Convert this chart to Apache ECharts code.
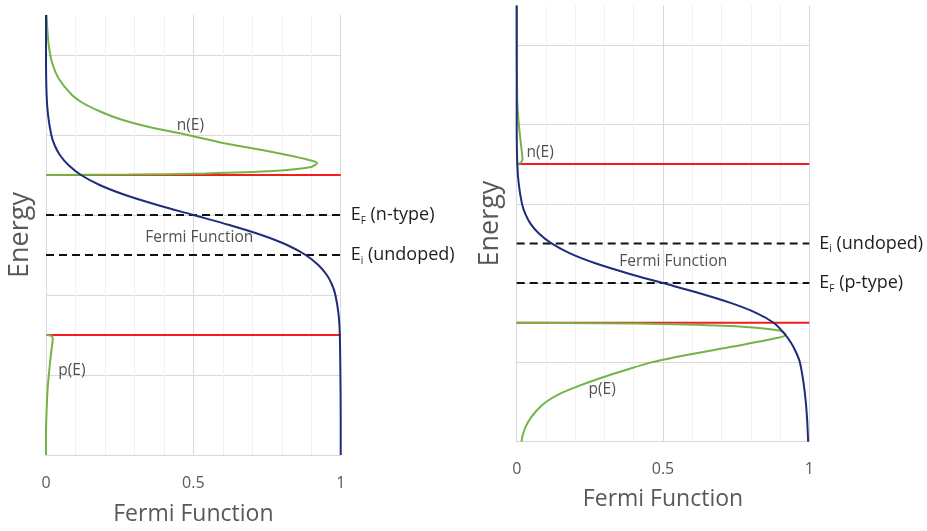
<!DOCTYPE html>
<html>
<head>
<meta charset="utf-8">
<script src="https://cdn.jsdelivr.net/npm/echarts@6/dist/echarts.min.js"></script>
<style>
  html, body { margin: 0; padding: 0; background: #ffffff; }
  #chart { width: 927px; height: 531px; }
</style>
</head>
<body>
<div id="chart"></div>
<script>
// Energy-band diagrams: Fermi function with electron/hole distributions
// for an n-type (left) and a p-type (right) semiconductor.
// Every point is [Fermi function value, energy].

// n-type panel
const fermiN = [
  [1.000, 0.0], [1.000, 0.5], [0.999, 1.0], [0.997, 1.5], [0.993, 1.75],
  [0.982, 2.0], [0.971, 2.125], [0.953, 2.25], [0.924, 2.375], [0.881, 2.5],
  [0.818, 2.625], [0.731, 2.75], [0.622, 2.875], [0.500, 3.0], [0.378, 3.125],
  [0.269, 3.25], [0.182, 3.375], [0.119, 3.5], [0.076, 3.625], [0.047, 3.75],
  [0.029, 3.875], [0.018, 4.0], [0.007, 4.25], [0.002, 4.5], [0.000, 5.0], [0.000, 5.5]
];
const electronsN = [
  [0.000, 3.5], [0.28, 3.505], [0.54, 3.52], [0.77, 3.55], [0.90, 3.6],
  [0.92, 3.65], [0.88, 3.7], [0.75, 3.8], [0.60, 3.9], [0.48, 4.0],
  [0.35, 4.1], [0.25, 4.2], [0.18, 4.3], [0.125, 4.4], [0.088, 4.5],
  [0.044, 4.7], [0.021, 4.9], [0.010, 5.1], [0.005, 5.3], [0.002, 5.5]
];
const holesN = [
  [0.000, 1.5], [0.018, 1.49], [0.023, 1.46], [0.020, 1.35], [0.015, 1.2],
  [0.011, 1.05], [0.006, 0.85], [0.003, 0.65], [0.001, 0.45], [0.000, 0.25], [0.000, 0.0]
];

// p-type panel
const fermiP = [
  [0.996, 0.0], [0.993, 0.25], [0.988, 0.5], [0.980, 0.75], [0.968, 1.0],
  [0.955, 1.125], [0.937, 1.25], [0.912, 1.375], [0.878, 1.5], [0.818, 1.625],
  [0.731, 1.75], [0.622, 1.875], [0.500, 2.0], [0.378, 2.125], [0.269, 2.25],
  [0.182, 2.375], [0.119, 2.5], [0.076, 2.625], [0.047, 2.75], [0.029, 2.875],
  [0.018, 3.0], [0.007, 3.25], [0.002, 3.5], [0.000, 4.0], [0.000, 5.5]
];
const electronsP = [
  [0.000, 3.5], [0.015, 3.52], [0.020, 3.56], [0.016, 3.7], [0.010, 3.9],
  [0.005, 4.1], [0.002, 4.3], [0.001, 4.6], [0.000, 5.0], [0.000, 5.5]
];
const holesP = [
  [0.016, 0.0], [0.022, 0.1], [0.032, 0.2], [0.048, 0.3], [0.070, 0.4],
  [0.100, 0.5], [0.145, 0.6], [0.210, 0.7], [0.285, 0.8], [0.370, 0.9],
  [0.460, 1.0], [0.590, 1.1], [0.740, 1.2], [0.880, 1.3], [0.920, 1.35],
  [0.900, 1.4], [0.770, 1.45], [0.540, 1.48], [0.280, 1.495], [0.000, 1.5]
];

// band edges (conduction, valence) and dashed reference levels
const bandEdges = [3.5, 1.5];
const levelsN = [
  { name: 'EF', energy: 3.0, sub: 'F', text: ' (n-type)' },
  { name: 'Ei', energy: 2.5, sub: 'i', text: ' (undoped)' }
];
const levelsP = [
  { name: 'Ei', energy: 2.5, sub: 'i', text: ' (undoped)' },
  { name: 'EF', energy: 2.0, sub: 'F', text: ' (p-type)' }
];

// curve annotations: [fermi value, energy, text]
const notesN = [[0.49, 4.12, 'n(E)'], [0.52, 2.72, 'Fermi Function'], [0.088, 1.05, 'p(E)']];
const notesP = [[0.08, 3.65, 'n(E)'], [0.535, 2.27, 'Fermi Function'], [0.292, 0.66, 'p(E)']];

const xTicks = { min: 0, max: 1, interval: 0.5 };
const energyRange = { min: 0, max: 5.5, interval: 1 };

const FONT = 'Open Sans';
const GRID_COLOR = '#d9d9d9';
const MINOR_COLOR = '#f1f1f1';
const BLUE = '#1f2b7b';
const GREEN = '#76b347';
const RED = '#f21d1d';

function makeXAxis(gridIndex, nameGap) {
  return {
    type: 'value', gridIndex: gridIndex,
    min: xTicks.min, max: xTicks.max, interval: xTicks.interval,
    name: 'Fermi Function', nameLocation: 'middle', nameGap: nameGap,
    nameTextStyle: { fontFamily: FONT, fontSize: 23, color: '#595959' },
    axisLine: { show: true, lineStyle: { color: GRID_COLOR, width: 1 } },
    axisTick: { show: false },
    axisLabel: { margin: 20, fontFamily: FONT, fontSize: 16, color: '#595959' },
    splitLine: { show: true, lineStyle: { color: GRID_COLOR, width: 1 } },
    minorTick: { show: false, splitNumber: 5 },
    minorSplitLine: { show: true, lineStyle: { color: MINOR_COLOR, width: 1 } }
  };
}

function makeYAxis(gridIndex, nameGap) {
  return {
    type: 'value', gridIndex: gridIndex,
    min: energyRange.min, max: energyRange.max, interval: energyRange.interval,
    name: 'Energy', nameLocation: 'middle', nameGap: nameGap, nameRotate: 90,
    nameTextStyle: { fontFamily: FONT, fontSize: 27, color: '#595959' },
    axisLine: { show: false },
    axisTick: { show: false },
    axisLabel: { show: false },
    splitLine: { show: true, showMaxLine: false, lineStyle: { color: GRID_COLOR, width: 1 } }
  };
}

function curve(data, color, idx, z) {
  return {
    type: 'line', xAxisIndex: idx, yAxisIndex: idx,
    data: data, showSymbol: false, symbol: 'none',
    smooth: 0.3,
    lineStyle: { color: color, width: 2 },
    z: z, silent: true
  };
}

function bandLines(idx) {
  return bandEdges.map(e => ({
    type: 'line', xAxisIndex: idx, yAxisIndex: idx,
    data: [[xTicks.min, e], [xTicks.max, e]],
    showSymbol: false, symbol: 'none',
    lineStyle: { color: RED, width: 2 },
    z: 2, silent: true
  }));
}

function levelLines(levels, idx) {
  return levels.map(l => ({
    type: 'line', xAxisIndex: idx, yAxisIndex: idx,
    data: [[xTicks.min, l.energy], [xTicks.max, l.energy]],
    showSymbol: false, symbol: 'none',
    lineStyle: { color: '#111111', width: 2, type: [8, 5] },
    endLabel: {
      show: true, distance: 10,
      formatter: '{m|E}{s|' + l.sub + '}{m|' + l.text + '}',
      rich: {
        m: { fontFamily: FONT, fontSize: 18, color: '#1e1e1e', lineHeight: 22 },
        s: { fontFamily: FONT, fontSize: 10, color: '#1e1e1e', lineHeight: 6, verticalAlign: 'bottom' }
      }
    },
    z: 3, silent: true
  }));
}

function notes(list, idx) {
  return {
    type: 'scatter', xAxisIndex: idx, yAxisIndex: idx,
    data: list.map(n => ({ value: [n[0], n[1]], label: { formatter: n[2] } })),
    symbolSize: 1,
    itemStyle: { color: 'rgba(0,0,0,0)' },
    label: {
      show: true, position: 'inside',
      fontFamily: FONT, fontSize: 15.5, color: '#262626'
    },
    z: 6, silent: true
  };
}

const chart = echarts.init(document.getElementById('chart'), null, { renderer: 'canvas' });
chart.setOption({
  animation: false,
  backgroundColor: '#ffffff',
  grid: [
    { left: 46, top: 15, width: 294.7, height: 440 },
    { left: 516.7, top: 5.5, width: 292.6, height: 436.2 }
  ],
  xAxis: [makeXAxis(0, 48), makeXAxis(1, 46)],
  yAxis: [makeYAxis(0, 12), makeYAxis(1, 13)],
  series: [].concat(
    bandLines(0),
    levelLines(levelsN, 0),
    [curve(electronsN, GREEN, 0, 4), curve(holesN, GREEN, 0, 4), curve(fermiN, BLUE, 0, 5)],
    [notes(notesN, 0)],
    bandLines(1),
    levelLines(levelsP, 1),
    [curve(electronsP, GREEN, 1, 4), curve(holesP, GREEN, 1, 4), curve(fermiP, BLUE, 1, 5)],
    [notes(notesP, 1)]
  )
});
</script>
</body>
</html>
